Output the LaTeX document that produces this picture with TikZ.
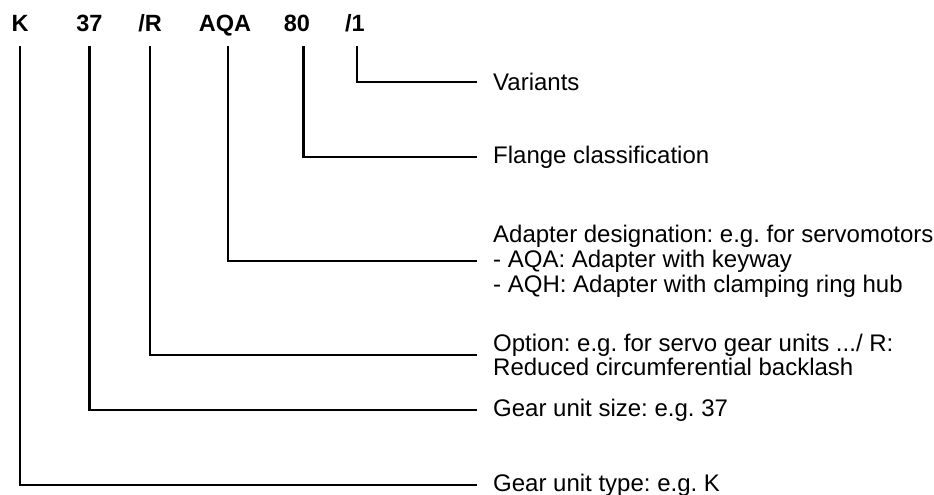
\documentclass[tikz,border=0pt]{standalone}
\usepackage{fontspec}
\setmainfont{Liberation Sans}
\usepackage{tikz}
\frenchspacing

\begin{document}
\begin{tikzpicture}[
    x=1pt, y=-1pt,
    every node/.style={font=\fontsize{24}{24.8}\selectfont},
    code/.style={font=\fontsize{23.5}{24}\selectfont\bfseries, inner sep=0pt,
                 text height=17pt, text depth=0pt},
    desc/.style={anchor=west, align=left, inner sep=0pt},
    link/.style={line width=2.6pt, shorten <=14pt, shorten >=16pt}
]
    \useasboundingbox (0,0) rectangle (934,495);

    % type designation
    \node[code] (lK)   at (20,23.5)  {K};
    \node[code] (l37)  at (89.5,23.5) {37};
    \node[code] (lR)   at (150,23.5) {/R};
    \node[code] (lAQA) at (225,23.5) {AQA};
    \node[code] (l80)  at (297,23.5) {80};
    \node[code] (l1)   at (355,23.5) {/1};

    % meanings
    \node[desc] (d1)   at (493,82)  {Variants};
    \node[desc] (d80)  at (493,157) {Flange classification};
    \node[desc] (dAQA) at (493,261) {Adapter designation: e.g. for servomotors\\
                                     - AQA: Adapter with keyway\\
                                     - AQH: Adapter with clamping ring hub};
    \node[desc] (dR)   at (493,355) {Option: e.g. for servo gear units .../ R:\\
                                     Reduced circumferential backlash};
    \node[desc] (d37)  at (493,410) {Gear unit size: e.g. 37};
    \node[desc] (dK)   at (493,485) {Gear unit type: e.g. K};

    \draw[link] ([xshift=2pt]l1.south)   |- (d1);
    \draw[link] ([xshift=6.5pt]l80.south) |- (d80);
    \draw[link] ([xshift=3pt]lAQA.south) |- (dAQA);
    \draw[link] (lR)   |- (dR);
    \draw[link] (l37)  |- (d37);
    \draw[link] (lK)   |- (dK);
\end{tikzpicture}
\end{document}
